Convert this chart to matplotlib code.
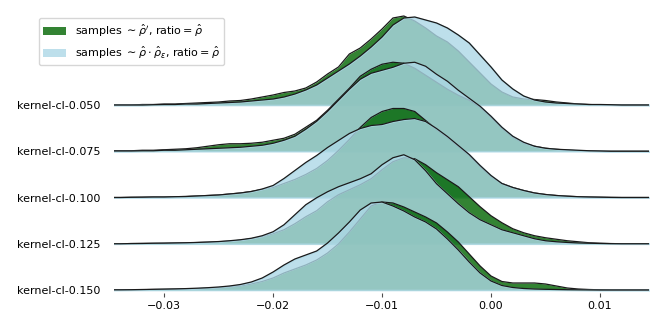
import numpy as np
import matplotlib
matplotlib.use("Agg")
from matplotlib import pyplot as plt
from matplotlib.patches import Patch

# sampling grid of the densities
x = np.round(np.arange(-35, 16) * 0.001, 3)

labels = ["kernel-cl-0.050", "kernel-cl-0.075", "kernel-cl-0.100",
          "kernel-cl-0.125", "kernel-cl-0.150"]

# density heights (pixels above each baseline)
green_050 = [0, 0, 0, 0.5, 0.5, 1, 1, 1.5, 2, 2.5, 3, 4, 4.5, 6, 8, 10, 12.5, 14, 17, 23, 31,
             38, 51, 57, 66, 76, 87, 89, 84, 77, 69, 63, 54, 43, 32, 21, 13, 8, 6, 5.5, 4.5,
             3, 2, 1, 0.5, 0, 0, 0, 0, 0, 0]
blue_050 = [0, 0, 0, 0, 0.3, 0.5, 0.5, 1, 1, 1.5, 2, 2.5, 3, 4, 5, 6, 8, 11, 15, 20, 27,
            34, 41, 49, 58, 68, 80, 87, 88, 85, 82, 77, 70, 62, 50, 38, 25, 16, 9, 5, 3,
            2, 1.5, 1, 0.5, 0.5, 0.3, 0, 0, 0, 0]
green_075 = [0.5, 0.5, 0.5, 1, 1, 1.5, 2, 2.5, 3.5, 5, 6.5, 7.5, 7.5, 8, 9, 11, 13, 17, 24, 31, 41,
             52, 63, 75, 82, 87, 89, 88, 83, 76, 69, 62, 56, 51, 44, 34, 23, 14, 8, 5, 3,
             2, 1, 0.5, 0.3, 0, 0, 0, 0, 0, 0]
blue_075 = [0.3, 0.3, 0.3, 0.5, 0.5, 1, 1, 1.5, 2, 2.5, 3, 3.5, 4, 5, 6, 8, 11, 15, 22, 30, 40,
            51, 62, 72, 78, 81, 84, 88, 89, 85, 77, 70, 61, 53, 45, 35, 24, 15, 9, 5, 3,
            2, 1.5, 1, 0.5, 0.3, 0, 0, 0, 0, 0]
green_100 = [0, 0, 0.2, 0.3, 0.5, 0.5, 0.8, 1, 1.5, 2, 2.5, 3.5, 4.5, 6, 8, 10, 14, 18, 23, 29, 37,
             47, 58, 70, 80, 86, 89, 89, 86, 77, 68, 60, 51, 42, 31, 21, 14, 10, 7, 4.5, 3,
             2, 1.3, 0.8, 0.5, 0.3, 0.1, 0, 0, 0, 0]
blue_100 = [0, 0, 0.2, 0.3, 0.5, 0.5, 0.8, 1, 1.5, 2, 2.5, 3.5, 4.5, 6, 8.5, 12, 19, 27, 35, 42, 50,
            57, 64, 69, 72, 73, 76, 78, 79, 76, 69, 61, 52, 43, 32, 22, 14, 10, 7, 4.5, 3,
            2, 1.3, 0.8, 0.5, 0.3, 0.1, 0, 0, 0, 0]
green_125 = [0, 0, 0.2, 0.3, 0.4, 0.5, 0.7, 0.9, 1.2, 1.5, 2, 2.5, 3.5, 5, 7, 10, 14, 20, 27, 33, 42,
             49, 54, 59, 65, 74, 82, 86, 85, 79, 71, 64, 57, 47, 37, 28, 21, 15, 11, 8, 6,
             4.5, 3, 2, 1, 0.5, 0.2, 0, 0, 0, 0]
blue_125 = [0, 0, 0.2, 0.3, 0.5, 0.6, 0.8, 1, 1.3, 1.7, 2.2, 3, 4, 5.5, 8, 12, 19, 29, 39, 46, 52,
            57, 61, 65, 70, 79, 86, 89, 84, 73, 60, 50, 40, 31, 24, 19, 14, 11, 8, 5, 3,
            2, 1.3, 0.8, 0.5, 0.3, 0.1, 0, 0, 0, 0]
green_150 = [0.1, 0.1, 0.2, 0.3, 0.5, 0.6, 0.8, 1, 1.3, 1.6, 2, 3, 4, 6, 8.5, 12, 17, 21, 25, 30, 37,
             46, 58, 71, 84, 88, 87, 83, 78, 73, 67, 58, 48, 36, 24, 14, 8.5, 7, 7, 7, 6,
             4, 2, 1, 0.5, 0.2, 0, 0, 0, 0, 0]
blue_150 = [0.2, 0.2, 0.3, 0.5, 0.7, 0.9, 1.1, 1.4, 1.8, 2.3, 3, 4, 5.5, 8, 12, 18, 25, 31, 35, 39, 47,
            57, 68, 80, 87, 88, 84, 79, 73, 68, 61, 51, 40, 28, 17, 9, 4.5, 2.5, 1.5, 1, 0.7,
            0.5, 0.3, 0.2, 0.1, 0, 0, 0, 0, 0, 0]

greens = [green_050, green_075, green_100, green_125, green_150]
blues = [blue_050, blue_075, blue_100, blue_125, blue_150]
row_px = 46.25  # one row step in the picture

fig = plt.figure(figsize=(6.64, 3.32), dpi=100)
ax = fig.add_axes([114 / 664, 1 - 293 / 332, 535 / 664, 283 / 332])

n = len(labels)
for i in range(n):
    base = n - 1 - i
    g = base + np.array(greens[i]) / row_px
    b = base + np.array(blues[i]) / row_px
    z = 10 * i
    ax.fill_between(x, base, g, color="darkgreen", alpha=0.8, lw=0, zorder=z + 1)
    ax.plot(x, g, color="#1a1a1a", lw=0.9, zorder=z + 2)
    ax.fill_between(x, base, b, facecolor="lightblue", edgecolor="lightblue",
                    alpha=0.8, lw=1.2, zorder=z + 3)
    ax.plot(x, b, color="#1a1a1a", lw=0.9, zorder=z + 4)

ax.set_xlim(-0.0346, 0.0145)
ax.set_ylim(-3 / row_px, -3 / row_px + 283 / row_px)
ax.set_xticks([-0.03, -0.02, -0.01, 0.0, 0.01])
ax.set_yticks(list(range(n - 1, -1, -1)))
ax.set_yticklabels(labels)
ax.tick_params(axis="y", length=0, pad=9.5, labelsize=8)
ax.tick_params(axis="x", length=3, width=0.8, color="0.3", labelsize=8, pad=3)
for s in ax.spines.values():
    s.set_visible(False)

handles = [Patch(facecolor="darkgreen", alpha=0.8),
           Patch(facecolor="lightblue", alpha=0.8)]
fig.legend(handles,
           [r"samples $\sim\hat{\rho}'$, ratio$=\hat{\rho}$",
            r"samples $\sim\hat{\rho}\cdot\hat{\rho}_\varepsilon$, ratio$=\hat{\rho}$"],
           loc="upper left", bbox_to_anchor=(39 / 664, 1 - 18 / 332),
           borderaxespad=0, fontsize=8)

fig.savefig("out.png", dpi=100)
